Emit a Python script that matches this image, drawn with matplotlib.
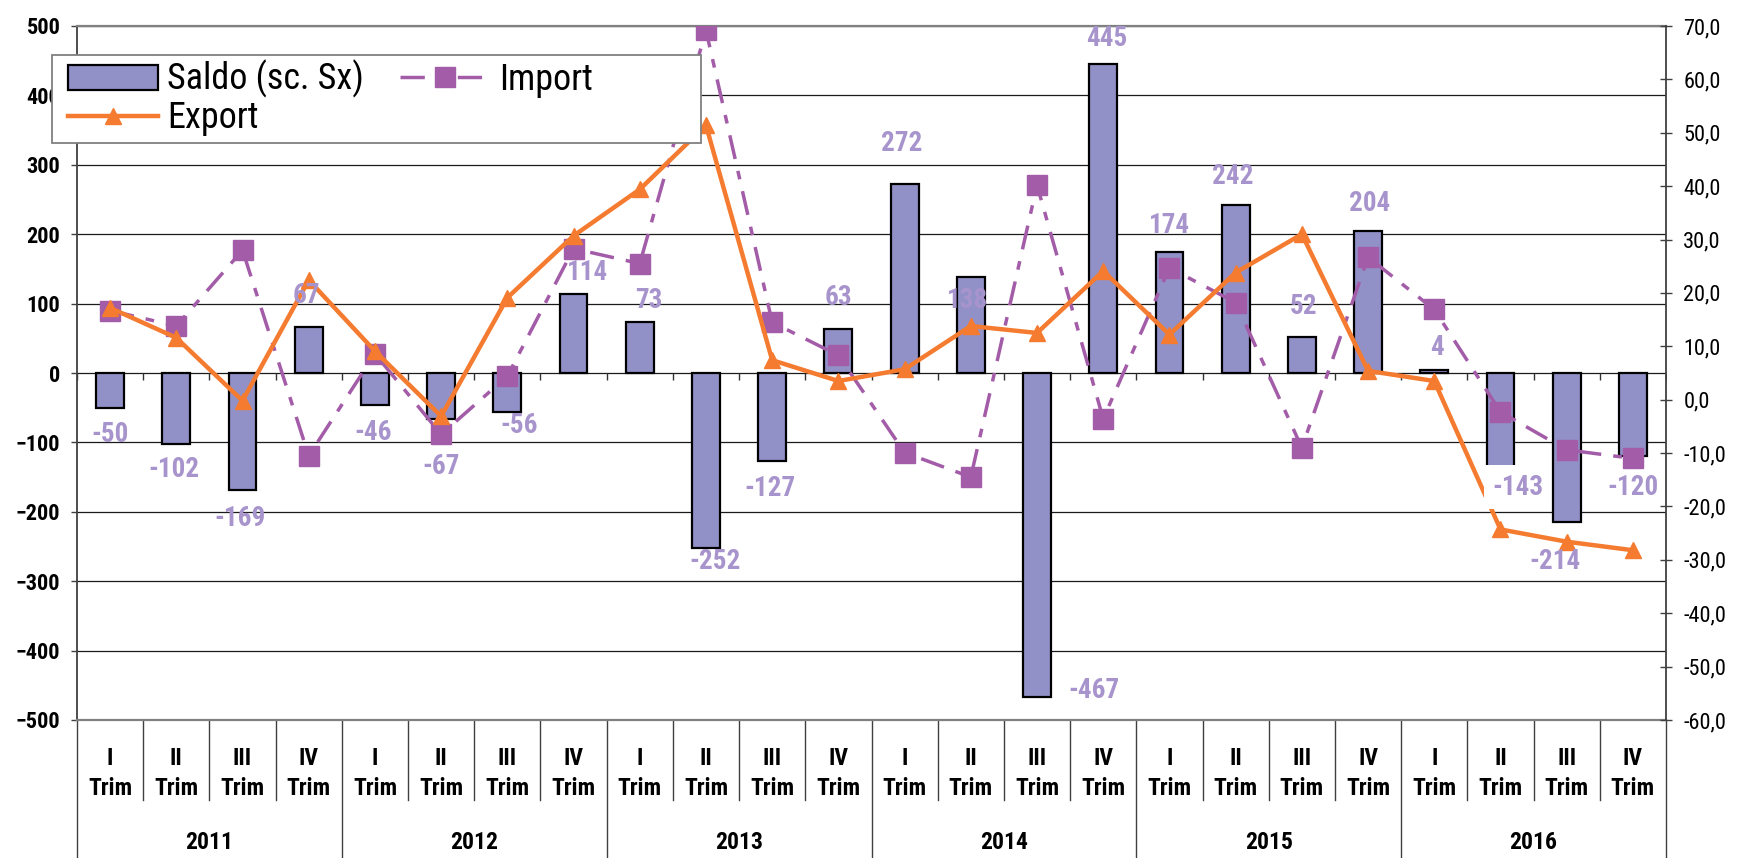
import numpy as np
import matplotlib
matplotlib.use('Agg')
import matplotlib.pyplot as plt
from matplotlib import font_manager
from matplotlib.patches import Rectangle
from matplotlib.lines import Line2D

# pick a narrow font if one is there
fonts = font_manager.fontManager.ttflist
names = {f.name for f in fonts}
FONT, STRETCH = 'DejaVu Sans', 'normal'
for nm in ['Liberation Sans Narrow', 'Arial Narrow', 'Roboto Condensed', 'Open Sans Condensed']:
    if nm in names:
        FONT = nm
        break
else:
    for nm in ['Roboto', 'Noto Sans', 'Open Sans', 'DejaVu Sans']:
        if any(f.name == nm and f.stretch in ('condensed', 'semi-condensed', 'extra-condensed', 300, 400)
               for f in fonts if isinstance(f.stretch, (str, int))):
            FONT, STRETCH = nm, 'condensed'
            break
plt.rcParams['font.family'] = [FONT, 'DejaVu Sans']
plt.rcParams['font.stretch'] = STRETCH

# data
years = ['2011', '2012', '2013', '2014', '2015', '2016']
quarters = ['I', 'II', 'III', 'IV']
saldo = [-50, -102, -169, 67, -46, -67, -56, 114, 73, -252, -127, 63,
         272, 138, -467, 445, 174, 242, 52, 204, 4, -143, -214, -120]
export = [17.2, 11.6, -0.2, 22.4, 9.1, -3.1, 19.1, 30.7, 39.4, 51.4, 7.4, 3.5,
          5.7, 13.8, 12.5, 24.1, 12.2, 23.8, 31.0, 5.4, 3.5, -24.3, -26.6, -28.2]
imports = [16.7, 13.8, 28.0, -10.5, 8.6, -6.5, 4.4, 28.3, 25.5, 69.2, 14.5, 8.3,
           -9.9, -14.5, 40.2, -3.6, 24.7, 18.2, -9.0, 26.7, 16.9, -2.3, -9.4, -11.0]

# label offsets in pixels (dx, dy) from the bar end
label_off = [(0, -27), (-2, -26), (-2, -28), (-2, 31), (-2, -28), (0, -47),
             (12, -14), (14, 21), (9, 22), (9, -14), (-2, -27), (0, 32),
             (-3, 41), (-3, -23), (57, 7), (4, 26), (0, 27), (-3, 29),
             (2, 30), (2, 28), (3, 23), (17, -15), (-12, -40), (0, -31)]

BAR = '#9191C7'
IMP = '#A35CA8'
EXP = '#F47B2F'
LAB = '#A894CC'

W, H = 1737, 858
fig = plt.figure(figsize=(W / 100, H / 100), dpi=100)
L, R, T, B = 77, 1666, 26, 720
ax = fig.add_axes([L / W, 1 - B / H, (R - L) / W, (B - T) / H])
ax2 = ax.twinx()

n = len(saldo)
x = np.arange(n)

ax.set_xlim(-0.5, n - 0.5)
ax.set_ylim(-500, 500)
ax.set_yticks(np.arange(-500, 501, 100))
ax.set_axisbelow(True)
ax.yaxis.grid(True, color='#1a1a1a', lw=0.9)
ax.set_xticks([])
ax.tick_params(axis='y', direction='out', length=4, width=1, color='#404040',
               pad=8, labelsize=16)
for lab in ax.get_yticklabels():
    lab.set_fontweight('bold')

bars = ax.bar(x, saldo, width=0.42, color=BAR, edgecolor='black', linewidth=1.6,
              zorder=3)
# tick marks on the zero line
ax.plot(np.arange(n + 1) - 0.5, np.zeros(n + 1), ls='none', marker=3, ms=5,
        mew=1, color='#333333', zorder=2)

for s in ['top', 'bottom']:
    ax.spines[s].set_color('#808080')
    ax.spines[s].set_linewidth(1.6)
ax.spines['left'].set_color('#404040')
ax.spines['left'].set_linewidth(1.3)
ax.spines['right'].set_visible(False)

ax2.set_ylim(-60, 70)
ax2.set_yticks(np.arange(-60, 71, 10))
ax2.set_yticklabels([f'{v:.1f}'.replace('.', ',') for v in np.arange(-60, 71, 10)])
ax2.tick_params(axis='y', direction='inout', length=9, width=1, color='#404040',
                pad=8, labelsize=16)
for s in ['top', 'bottom', 'left']:
    ax2.spines[s].set_visible(False)
ax2.spines['right'].set_color('#404040')
ax2.spines['right'].set_linewidth(1.3)

imp_line, = ax2.plot(x, imports, color=IMP, lw=2.5, ls=(0, (7, 3.5, 2.5, 3.5)),
                     marker='s', ms=14, mec=IMP, mfc=IMP, zorder=4)
exp_line, = ax2.plot(x, export, color=EXP, lw=3.2, marker='^', ms=12,
                     mec=EXP, mfc=EXP, zorder=5)

# value labels on bars
for i, v in enumerate(saldo):
    dx, dy = label_off[i]
    kw = {}
    if v == -143:
        kw['bbox'] = dict(fc='white', ec='none', pad=6)
    ax2.annotate(str(v), xy=(i, v), xycoords=ax.transData,
                 xytext=(dx, dy), textcoords='offset pixels',
                 ha='center', va='center', fontsize=19.5, fontweight='bold',
                 color=LAB, zorder=6, **kw)

# category axis below the plot
xt = ax.get_xaxis_transform()
for b in range(n + 1):
    yb = -0.1988 if b % 4 == 0 else -0.1153
    ax.add_line(Line2D([b - 0.5, b - 0.5], [0, yb], transform=xt, color='#404040',
                       lw=1, clip_on=False))
for i in range(n):
    ax.text(i, -0.0548, quarters[i % 4], transform=xt, ha='center', va='center',
            fontsize=17, fontweight='bold')
    ax.text(i, -0.098, 'Trim', transform=xt, ha='center', va='center',
            fontsize=17, fontweight='bold')
for k, y in enumerate(years):
    ax.text(4 * k + 1.5, -0.1772, y, transform=xt, ha='center', va='center',
            fontsize=17, fontweight='bold')

# legend with its own box
box = Rectangle((52 / W, 1 - 143 / H), 649 / W, 88 / H, transform=fig.transFigure,
                fc='white', ec='#808080', lw=1.3, zorder=9, clip_on=False)
ax2.add_patch(box)
leg = ax2.legend([bars, exp_line, imp_line], ['Saldo (sc. Sx)', 'Export', 'Import'],
                 ncol=2, frameon=False, loc='upper left',
                 bbox_to_anchor=(68 / W, 1 - 60 / H), bbox_transform=fig.transFigure,
                 borderpad=0, borderaxespad=0, fontsize=26, handlelength=2.5,
                 handletextpad=0.25, columnspacing=1.0, labelspacing=0.05,
                 numpoints=1)
leg.set_zorder(10)

fig.savefig('out.png', dpi=100)
